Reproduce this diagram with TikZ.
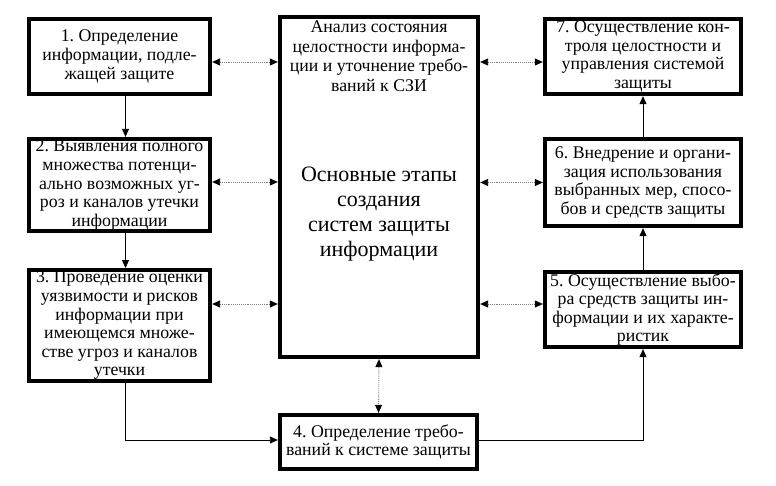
\documentclass[tikz,border=0pt]{standalone}
\usepackage{fontspec}
\setmainfont{Liberation Serif}
\usetikzlibrary{arrows.meta}
\frenchspacing
\tikzset{
  stagebox/.style={draw=black, line width=4.3pt, fill=white, align=center, inner sep=1pt,
    font=\fontsize{17.8}{18.6}\selectfont},
  solidarrow/.style={draw=black, line width=0.8pt, -{Triangle[width=7pt,length=8pt]}},
  dotarrow/.style={draw=gray, line width=0.9pt, densely dotted,
    {Triangle[width=7pt,length=8pt,color=black]}-{Triangle[width=7pt,length=8pt,color=black]}},
}
\begin{document}
\frenchspacing
\begin{tikzpicture}[x=1pt,y=-1pt]
\useasboundingbox (0,0) rectangle (776,485);
% left column
\node[stagebox, minimum width=181pt, minimum height=75pt] (b1) at (119.5,56.5)
  {1. Определение\\информации, подле-\\жащей защите};
\node[stagebox, minimum width=181pt, minimum height=92pt] (b2) at (119.5,185)
  {2. Выявления полного\\множества потенци-\\ально возможных уг-\\роз и каналов утечки\\информации};
\node[stagebox, minimum width=181pt, minimum height=109pt] (b3) at (119.5,325.5)
  {3. Проведение оценки\\уязвимости и рисков\\информации при\\имеющемся множе-\\стве угроз и каналов\\утечки};
% central
\node[stagebox, minimum width=198pt, minimum height=340pt] (c) at (379,187) {};
\node[align=center, font=\fontsize{17.8}{19.8}\selectfont, anchor=north] (ct) at (379,17)
  {Анализ состояния\\целостности информа-\\ции и уточнение требо-\\ваний к СЗИ};
\node[align=center, font=\fontsize{22}{24.8}\selectfont] (cm) at (379,214)
  {Основные этапы\\создания\\систем защиты\\информации};
\node[stagebox, minimum width=197pt, minimum height=54pt] (b4) at (378.5,442)
  {4. Определение требо-\\ваний к системе защиты};
% right column
\node[stagebox, minimum width=196pt, minimum height=75pt] (b7) at (643,56.5)
  {7. Осуществление кон-\\троля целостности и\\управления системой\\защиты};
\node[stagebox, minimum width=196pt, minimum height=87pt] (b6) at (643,182.5)
  {6. Внедрение и органи-\\зация использования\\выбранных мер, спосо-\\бов и средств защиты};
\node[stagebox, minimum width=196pt, minimum height=75pt] (b5) at (643,309.5)
  {5. Осуществление выбо-\\ра средств защиты ин-\\формации и их характе-\\ристик};
% solid flow
\draw[solidarrow] ([xshift=6pt]b1.south) -- ([xshift=6pt]b2.north);
\draw[solidarrow] ([xshift=6pt]b2.south) -- ([xshift=6pt]b3.north);
\coordinate (l4) at ([yshift=2pt]b4.west);
\coordinate (r4) at ([yshift=2pt]b4.east);
\draw[solidarrow] ([xshift=6pt]b3.south) |- (l4);
\draw[solidarrow] (r4) -| (b5.south);
\draw[solidarrow] (b5.north) -- (b6.south);
\draw[solidarrow] (b6.north) -- (b7.south);
% dotted links
\draw[dotarrow] ([yshift=-5.5pt]b1.east) -- ([yshift=-5.5pt]b1.east -| c.west);
\draw[dotarrow] ([yshift=3pt]b2.east) -- ([yshift=3pt]b2.east -| c.west);
\draw[dotarrow] ([yshift=21.5pt]b3.east) -- ([yshift=21.5pt]b3.east -| c.west);
\draw[dotarrow] ([yshift=-5.5pt]b7.west -| c.east) -- ([yshift=-5.5pt]b7.west);
\draw[dotarrow] (b6.west -| c.east) -- (b6.west);
\draw[dotarrow] ([yshift=5.5pt]b5.west -| c.east) -- ([yshift=5.5pt]b5.west);
\draw[dotarrow] (c.south) -- (b4.north);
\end{tikzpicture}
\end{document}
